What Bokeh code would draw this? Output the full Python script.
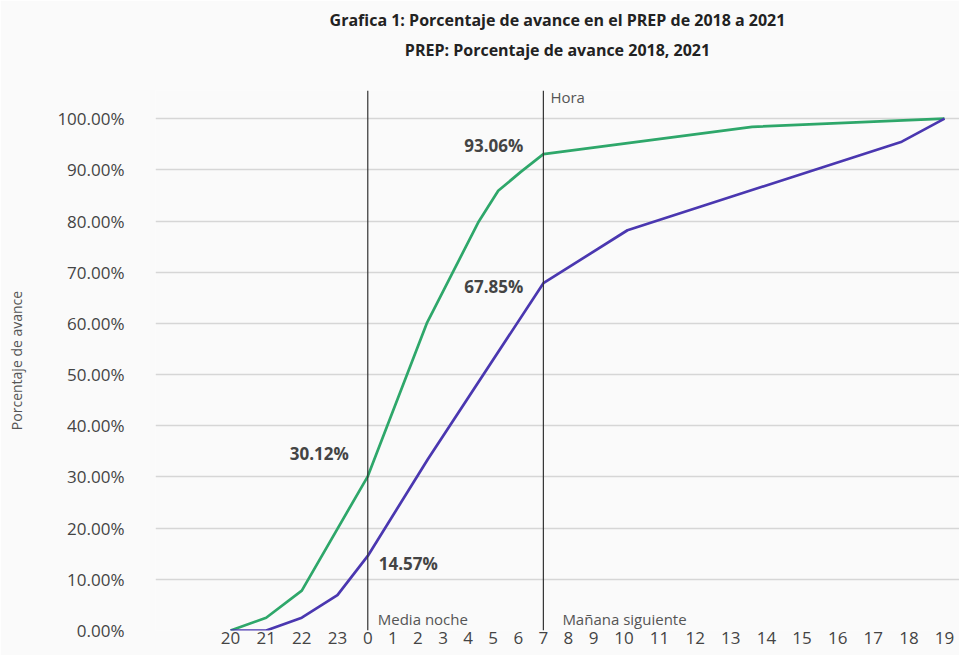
import numpy as np
from bokeh.plotting import figure
from bokeh.models import Range1d, FixedTicker, PrintfTickFormatter, Span, Title, Label
from bokeh.embed import file_html
from bokeh.resources import INLINE

# ---------------- data ----------------
hour_labels = ["20", "21", "22", "23", "0", "1", "2", "3", "4", "5", "6", "7",
               "8", "9", "10", "11", "12", "13", "14", "15", "16", "17", "18", "19"]

# hours elapsed since 20:00 (index into hour_labels, fractional = between hours)
green_hours = [0, 1, 2, 4, 6.35, 8.4, 9.2, 10.1, 11, 17.6, 23]
green_pct = [0, 2.5, 7.8, 30.12, 60.0, 79.7, 85.9, 89.6, 93.06, 98.4, 100]

purple_hours = [0, 1, 2, 3, 4, 6.4, 11, 14.1, 21.8, 23]
purple_pct = [0, 0, 2.5, 6.9, 14.57, 33.5, 67.85, 78.2, 95.5, 100]

ann_hours = [4, 4, 11, 11]
ann_pct = [30.12, 14.57, 93.06, 67.85]

y_ticks = [0, 10, 20, 30, 40, 50, 60, 70, 80, 90, 100]

title_1 = "Grafica 1: Porcentaje de avance en el PREP de 2018 a 2021"
title_2 = "PREP: Porcentaje de avance 2018, 2021"

# ---------------- axis spacing: labels flow like text (wider labels take more room) ----------------
gap = 1.38  # gap between labels, in digit widths
widths = [len(l) for l in hour_labels]
slot = [0.0]
for i in range(1, len(hour_labels)):
    slot.append(slot[-1] + gap + (widths[i - 1] + widths[i]) / 2)
idx = np.arange(len(hour_labels))


def to_axis(h):
    return np.interp(h, idx, slot)


FONT = "Open Sans"
GREEN = "#2ea76a"
PURPLE = "#4a37b0"
TXT = "#444444"

p = figure(width=959, height=655, output_backend="svg", toolbar_location=None,
           x_range=Range1d(slot[0] - 7.12, slot[-1] + 1.42), y_range=Range1d(0, 105.5),
           min_border_left=155, min_border_right=0, min_border_top=90, min_border_bottom=25,
           background_fill_color="#fafafa", border_fill_color="#fafafa")
p.outline_line_color = None

# grid
p.xgrid.grid_line_color = None
p.ygrid.ticker = FixedTicker(ticks=y_ticks)
p.ygrid.grid_line_color = "#d6d6d6"
p.ygrid.grid_line_width = 1.5

# x axis
p.xaxis.ticker = FixedTicker(ticks=list(slot))
p.xaxis.major_label_overrides = {float(s): l for s, l in zip(slot, hour_labels)}
p.xaxis.axis_line_color = None
p.xaxis.major_tick_line_color = None
p.xaxis.minor_tick_line_color = None
p.xaxis.major_tick_out = 0
p.xaxis.major_label_standoff = 1
p.xaxis.major_label_text_font = FONT
p.xaxis.major_label_text_font_size = "17px"
p.xaxis.major_label_text_color = TXT

# y axis
p.yaxis.ticker = FixedTicker(ticks=y_ticks)
p.yaxis.formatter = PrintfTickFormatter(format="%.2f%%")
p.yaxis.axis_line_color = None
p.yaxis.major_tick_line_color = None
p.yaxis.minor_tick_line_color = None
p.yaxis.major_tick_out = 0
p.yaxis.major_label_standoff = 31
p.yaxis.major_label_text_font = FONT
p.yaxis.major_label_text_font_size = "17px"
p.yaxis.major_label_text_color = TXT
p.yaxis.axis_label = "Porcentaje de avance"
p.yaxis.axis_label_text_font = FONT
p.yaxis.axis_label_text_font_style = "normal"
p.yaxis.axis_label_text_font_size = "14px"
p.yaxis.axis_label_text_color = "#555555"
p.yaxis.axis_label_standoff = 28

# vertical markers at midnight and 7:00
for h in (4, 11):
    p.add_layout(Span(location=float(to_axis(h)), dimension="height",
                      line_color="#333333", line_width=1.2))

# lines
p.line(to_axis(green_hours), green_pct, line_color=GREEN, line_width=2.7)
p.line(to_axis(purple_hours), purple_pct, line_color=PURPLE, line_width=2.7)

# value annotations
ann_style = [("right", -19, 23), ("left", 11, -8), ("right", -20, 9), ("right", -20, -3)]
for h, v, (al, xo, yo) in zip(ann_hours, ann_pct, ann_style):
    p.add_layout(Label(x=float(to_axis(h)), y=v, text=f"{v:.2f}%", text_align=al,
                       text_baseline="middle", x_offset=xo, y_offset=yo,
                       text_font=FONT, text_font_style="bold", text_font_size="17px",
                       text_color=TXT))

# region labels
lab_kw = dict(text_font=FONT, text_font_size="15px", text_color="#555555",
              text_baseline="middle", text_align="left")
p.add_layout(Label(x=float(to_axis(4)), y=0, text="Media noche", x_offset=10, y_offset=12, **lab_kw))
p.add_layout(Label(x=float(to_axis(11)), y=0, text="Mañana siguiente", x_offset=19, y_offset=12, **lab_kw))
p.add_layout(Label(x=float(to_axis(11)), y=105.5, text="Hora", x_offset=7, y_offset=-6, **lab_kw))

# titles (innermost first): spacer, subtitle, main title
p.add_layout(Title(text=" ", text_font_size="10px", standoff=15), "above")
p.add_layout(Title(text=title_2, align="center", offset=-45, vertical_align="top", text_font=FONT,
                   text_font_size="16px", text_font_style="bold", text_color="#222222",
                   standoff=0), "above")
p.add_layout(Title(text=title_1, align="center", offset=-45, vertical_align="top", text_font=FONT,
                   text_font_size="16px", text_font_style="bold", text_color="#222222",
                   standoff=12), "above")

open("out.html", "w").write(file_html(p, INLINE))
